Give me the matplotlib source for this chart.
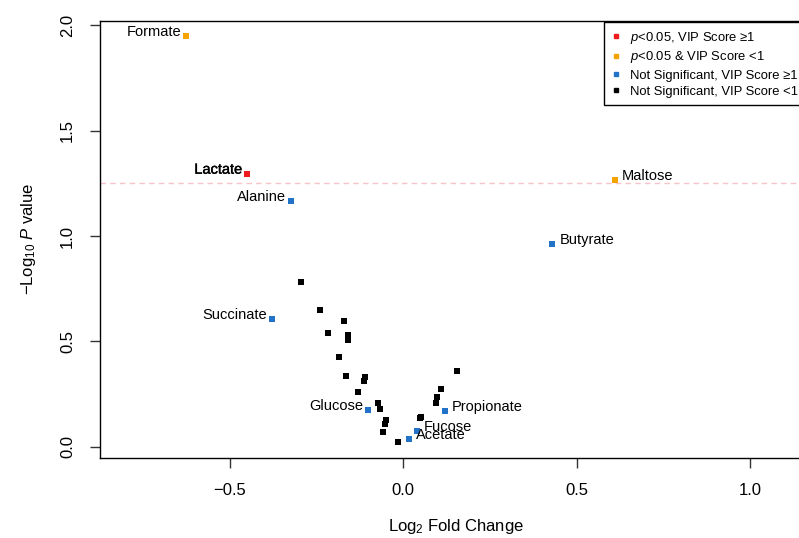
import matplotlib
matplotlib.use("Agg")
import matplotlib.pyplot as plt
import matplotlib.patheffects as pe
from matplotlib.lines import Line2D

plt.rcParams['font.family'] = ['Liberation Sans', 'DejaVu Sans']
plt.rcParams['mathtext.fontset'] = 'custom'
plt.rcParams['mathtext.rm'] = 'Liberation Sans'
plt.rcParams['mathtext.it'] = 'Liberation Sans:italic'

# labelled metabolites
names = ["Formate", "Lactate", "Alanine", "Succinate", "Maltose", "Butyrate",
         "Glucose", "Propionate", "Fucose", "Acetate"]
name_fc = [-0.626, -0.450, -0.324, -0.378, 0.611, 0.430, -0.102, 0.121, 0.039, 0.017]
name_p = [1.948, 1.296, 1.166, 0.608, 1.265, 0.962, 0.174, 0.170, 0.076, 0.038]
name_group = ["orange", "red", "blue", "blue", "orange", "blue", "blue", "blue", "blue", "blue"]
name_side = ["left", "left", "left", "left", "right", "right", "left", "right", "right", "right"]

# unlabelled, not significant & VIP < 1
black_fc = [-0.294, -0.240, -0.170, -0.216, -0.161, -0.159, -0.185, -0.165, -0.110, -0.112,
            -0.130, -0.074, -0.066, -0.051, -0.054, -0.059, -0.014, 0.048, 0.051, 0.093,
            0.096, 0.110, 0.155]
black_p = [0.782, 0.650, 0.597, 0.540, 0.532, 0.505, 0.427, 0.336, 0.329, 0.312,
           0.261, 0.209, 0.180, 0.127, 0.108, 0.071, 0.024, 0.135, 0.142, 0.209,
           0.237, 0.274, 0.361]

colors = {"red": "#ee1c1c", "orange": "#f5a300", "blue": "#2272c8", "black": "#000000"}
legend_labels = ["$p$<0.05, VIP Score \u22651",
                 "$p$<0.05 & VIP Score <1",
                 "Not Significant, VIP Score \u22651",
                 "Not Significant, VIP Score <1"]
threshold = 1.25

fig = plt.figure(figsize=(7.99, 5.38), dpi=100)
ax = fig.add_axes([100/799, (538-457.7)/538, (812-100)/799, (457.7-20.7)/538])
ax.set_xlim(-0.875, 1.179)
ax.set_ylim(-0.052, 2.022)

ax.axhline(threshold, color="#f7c4cb", lw=1, dashes=(4, 3), zorder=1)

ax.scatter(black_fc, black_p, marker="s", s=20, color=colors["black"], linewidths=0, zorder=3)
ax.scatter(name_fc, name_p, marker="s", s=20, color=[colors[g] for g in name_group],
           linewidths=0, zorder=3)

for n, x, y, side in zip(names, name_fc, name_p, name_side):
    if side == "left":
        t = ax.annotate(n, (x, y), xytext=(-3.5, 0), textcoords="offset points",
                        ha="right", va="baseline", fontsize=10.5)
    else:
        t = ax.annotate(n, (x, y), xytext=(5, 0), textcoords="offset points",
                        ha="left", va="baseline", fontsize=10.5)
    if n == "Lactate":
        t.set_path_effects([pe.withStroke(linewidth=0.3, foreground="black")])

ax.set_xticks([-0.5, 0.0, 0.5, 1.0])
ax.set_xticklabels(["\u22120.5", "0.0", "0.5", "1.0"])
ax.set_yticks([0.0, 0.5, 1.0, 1.5, 2.0])
ax.set_yticklabels(["0.0", "0.5", "1.0", "1.5", "2.0"])
ax.tick_params(length=7, width=1, labelsize=12, pad=11, color="#333333")
ax.tick_params(axis="y", labelrotation=90)
for lab in ax.get_yticklabels():
    lab.set_va("center")

for s in ax.spines.values():
    s.set_linewidth(1)
    s.set_color("black")

ax.set_xlabel("Log$_{2}$ Fold Change", fontsize=12, labelpad=14)
ax.set_ylabel("\u2212Log$_{10}$ $P$ value", fontsize=12, labelpad=16)

handles = [Line2D([], [], marker="s", ls="", color=colors[c], markersize=3.5)
           for c in ["red", "orange", "blue", "black"]]
leg = ax.legend(handles, legend_labels, loc="upper left",
                bbox_to_anchor=((604-100)/712, (457.7-21.7)/437),
                fontsize=9.4, frameon=True, fancybox=False, edgecolor="black",
                framealpha=1, borderpad=0.6, labelspacing=0.3, handlelength=0.6,
                handletextpad=0.8, borderaxespad=0)
leg.get_frame().set_linewidth(1.0)

plt.savefig("out.png", dpi=100)
